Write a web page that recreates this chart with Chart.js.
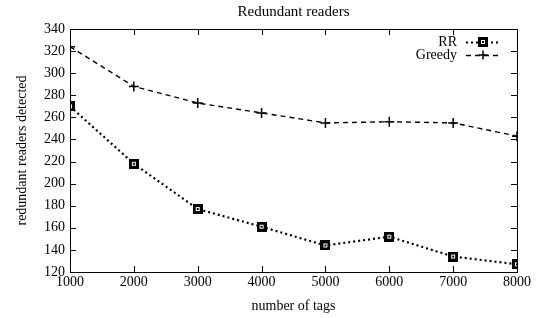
<!DOCTYPE html>
<html><head><meta charset="utf-8">
<script src="https://cdn.jsdelivr.net/npm/chart.js@4"></script>
<style>html,body{margin:0;padding:0;background:#fff}#wrap{width:545px;height:318px}</style>
</head><body><div id="wrap"><canvas id="c" width="545" height="318"></canvas></div>
<script>
const tags = [1000, 2000, 3000, 4000, 5000, 6000, 7000, 8000];
const rrValues = [270, 218, 177, 161, 144, 152, 134, 127];
const greedyValues = [324, 288, 273, 264, 255, 256, 255, 243];
const seriesNames = ["RR", "Greedy"];
const titleText = "Redundant readers";
const xTitle = "number of tags";
const yTitle = "redundant readers detected";

const FONT = "'Liberation Serif', 'DejaVu Serif', serif";

function squareMarker() {
  const c = document.createElement('canvas');
  c.width = 10; c.height = 10;
  const g = c.getContext('2d');
  g.fillStyle = '#000'; g.fillRect(0, 0, 10, 10);
  g.strokeStyle = '#fff'; g.lineWidth = 1;
  g.strokeRect(3.5, 3.5, 3, 3);
  return c;
}
const sq = squareMarker();

const frame = {
  id: 'frame',
  afterDraw(chart) {
    const ctx = chart.ctx, a = chart.chartArea;
    const xs = chart.scales.x, ys = chart.scales.y;
    ctx.save();
    // title centred over plot area
    ctx.font = "15px " + FONT;
    ctx.fillStyle = '#000';
    ctx.textAlign = 'center'; ctx.textBaseline = 'middle';
    ctx.fillText(titleText, (a.left + a.right) / 2, 12);
    ctx.strokeStyle = '#000'; ctx.lineWidth = 1;
    ctx.strokeRect(Math.round(a.left) + 0.5, Math.round(a.top) + 0.5, Math.round(a.right - a.left), Math.round(a.bottom - a.top));
    ctx.beginPath();
    xs.ticks.forEach(t => {
      const x = Math.round(xs.getPixelForValue(t.value)) + 0.5;
      ctx.moveTo(x, a.bottom); ctx.lineTo(x, a.bottom - 6);
      ctx.moveTo(x, a.top); ctx.lineTo(x, a.top + 6);
    });
    ys.ticks.forEach(t => {
      const y = Math.round(ys.getPixelForValue(t.value)) + 0.5;
      ctx.moveTo(a.left, y); ctx.lineTo(a.left + 6, y);
      ctx.moveTo(a.right, y); ctx.lineTo(a.right - 6, y);
    });
    ctx.stroke();
    // legend
    ctx.font = "14px " + FONT;
    ctx.textAlign = 'right'; ctx.textBaseline = 'middle';
    chart.data.datasets.forEach((ds, i) => {
      const y = a.top + 13 + i * 13;
      ctx.fillText(ds.label, 457, y);
      ctx.save();
      ctx.lineWidth = ds.borderWidth;
      ctx.setLineDash(ds.borderDash);
      ctx.beginPath();
      ctx.moveTo(466, Math.round(y) + 0.5); ctx.lineTo(500, Math.round(y) + 0.5);
      ctx.stroke();
      ctx.restore();
      const cx = 483;
      if (ds.pointStyle === 'cross') {
        ctx.lineWidth = 1.5; ctx.beginPath();
        ctx.moveTo(cx - 4.5, y); ctx.lineTo(cx + 4.5, y);
        ctx.moveTo(cx, y - 4.5); ctx.lineTo(cx, y + 4.5); ctx.stroke();
      } else {
        ctx.drawImage(sq, Math.round(cx - 5), Math.round(y - 5));
      }
    });
    ctx.restore();
  }
};

new Chart(document.getElementById('c'), {
  type: 'line',
  data: {
    datasets: [
      { label: seriesNames[0], data: tags.map((t, i) => ({x: t, y: rrValues[i]})),
        borderColor: '#000', borderWidth: 2.2, borderDash: [2, 3], pointStyle: sq,
        pointRadius: 5, pointHoverRadius: 5, fill: false, tension: 0 },
      { label: seriesNames[1], data: tags.map((t, i) => ({x: t, y: greedyValues[i]})),
        borderColor: '#000', borderWidth: 1.4, borderDash: [5, 4], pointStyle: 'cross',
        pointRadius: 5, pointBorderWidth: 1.5, pointBorderColor: '#000', pointHoverRadius: 5, fill: false, tension: 0 }
    ]
  },
  options: {
    responsive: false, animation: false,
    layout: { padding: { top: 29, right: 28, bottom: 0, left: 0 } },
    plugins: {
      legend: { display: false },
      tooltip: { enabled: false },
      title: { display: false }
    },
    scales: {
      x: { type: 'linear', min: 1000, max: 8000,
        ticks: { stepSize: 1000, color: '#000', font: { family: FONT, size: 14 }, padding: 2, maxRotation: 0, callback: v => String(v) },
        grid: { display: false, drawTicks: false }, border: { display: false },
        title: { display: true, text: xTitle, color: '#000', font: { family: FONT, size: 14 }, padding: { top: 0, bottom: 3 } },
        afterFit(s) { s.height = 46; } },
      y: { min: 120, max: 340,
        ticks: { stepSize: 20, color: '#000', font: { family: FONT, size: 14 }, padding: 5 },
        grid: { display: false, drawTicks: false }, border: { display: false },
        title: { display: true, text: yTitle, color: '#000', font: { family: FONT, size: 14 }, padding: { top: 14, bottom: 4 } },
        afterFit(s) { s.width = 70; } }
    }
  },
  plugins: [frame]
});
</script></body></html>
